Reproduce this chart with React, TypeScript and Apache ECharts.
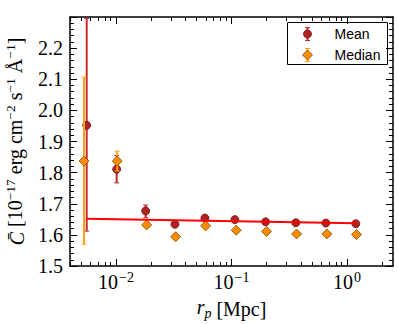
import React, { useEffect, useRef } from 'react';
import * as echarts from 'echarts';

// ---- data ----
const xMean = [0.00558, 0.01014, 0.01807, 0.03239, 0.05888, 0.107, 0.1972, 0.3605, 0.6561, 1.192];
const yMean = [1.952, 1.811, 1.677, 1.634, 1.654, 1.649, 1.642, 1.639, 1.638, 1.636];
const meanLo = [1.612, 1.767, 1.655, 1.628, 1.648, 1.644, 1.638, 1.635, 1.634, 1.632];
const meanHi = [2.295, 1.855, 1.696, 1.64, 1.66, 1.654, 1.646, 1.643, 1.642, 1.64];

const xMedian = [0.005287, 0.01026, 0.01843, 0.03284, 0.0597, 0.1098, 0.2012, 0.3659, 0.6688, 1.208];
const yMedian = [1.837, 1.837, 1.632, 1.594, 1.629, 1.615, 1.611, 1.603, 1.603, 1.601];
const medLo = [1.57, 1.805, 1.626, 1.588, 1.623, 1.609, 1.605, 1.597, 1.597, 1.595];
const medHi = [2.107, 1.869, 1.638, 1.6, 1.635, 1.621, 1.617, 1.609, 1.609, 1.607];

const fitX = [0.00558, 1.192];
const fitY = [1.652, 1.637];

const xMajorTicks = [0.01, 0.1, 1];
const xMinorTicks = [
  0.004, 0.005, 0.006, 0.007, 0.008, 0.009,
  0.02, 0.03, 0.04, 0.05, 0.06, 0.07, 0.08, 0.09,
  0.2, 0.3, 0.4, 0.5, 0.6, 0.7, 0.8, 0.9, 2,
];
const yTickLabels = ['1.5', '1.6', '1.7', '1.8', '1.9', '2.0', '2.1', '2.2'];

const SERIF = "'Liberation Serif', 'DejaVu Serif', serif";
const SANS = "'Liberation Sans', Arial, sans-serif";

const MEAN_FILL = '#b22222';
const MEAN_EDGE = '#6e1010';
const MEAN_BAR = '#c42b2b';
const MED_FILL = '#ff8c00';
const MED_EDGE = '#7a4a00';
const MED_BAR = '#ffa21a';

function errRender(color: string) {
  return (params: any, api: any) => {
    const x = api.value(0);
    const lo = api.value(2);
    const hi = api.value(3);
    const p1 = api.coord([x, hi]);
    const p2 = api.coord([x, lo]);
    const c = 2.5;
    return {
      type: 'group',
      children: [
        { type: 'line', shape: { x1: p1[0], y1: p1[1], x2: p2[0], y2: p2[1] }, style: { stroke: color, lineWidth: 2 } },
        { type: 'line', shape: { x1: p1[0] - c, y1: p1[1], x2: p1[0] + c, y2: p1[1] }, style: { stroke: color, lineWidth: 1 } },
        { type: 'line', shape: { x1: p2[0] - c, y1: p2[1], x2: p2[0] + c, y2: p2[1] }, style: { stroke: color, lineWidth: 1 } },
      ],
    };
  };
}

const GRID = { left: 70, right: 6, top: 17, bottom: 58, containLabel: false, outerBoundsMode: 'none' };
const X_MIN = 0.004;
const X_MAX = 2.5;
const Y_MIN = 1.5;
const Y_MAX = 2.3;

const frameLine = { show: true, lineStyle: { color: '#000', width: 1.5 } };
const tickStyle = { color: '#000', width: 1 };

export default function App() {
  const ref = useRef<HTMLDivElement>(null);

  useEffect(() => {
    if (!ref.current) return;
    const chart = echarts.init(ref.current, undefined, { renderer: 'svg' });

    const supRich = {
      b: { fontFamily: SERIF, fontSize: 20, color: '#000', lineHeight: 22, verticalAlign: 'bottom' },
      s: { fontFamily: SERIF, fontSize: 14, color: '#000', lineHeight: 22, verticalAlign: 'top', padding: [0, 0, 0, 1] },
    };

    const option: any = {
      animation: false,
      backgroundColor: '#fff',
      grid: [GRID, { ...GRID }],
      xAxis: [
        {
          type: 'log', logBase: 10, gridIndex: 0, position: 'bottom', min: X_MIN, max: X_MAX,
          axisLine: frameLine,
          axisTick: { show: true, inside: true, length: 7, lineStyle: tickStyle, customValues: xMajorTicks },
          axisLabel: {
            show: true, margin: 4, customValues: xMajorTicks,
            formatter: (v: number) => {
              const e = Math.round(Math.log10(v));
              return `{b|10}{s|${e < 0 ? '\u2212' : ''}${Math.abs(e)}}`;
            },
            rich: supRich,
          },
          splitLine: { show: false },
          name: '{i|r}{p|p} [Mpc]', nameLocation: 'middle', nameGap: 30,
          nameTextStyle: {
            fontFamily: SERIF, fontSize: 20, color: '#000',
            rich: {
              i: { fontFamily: SERIF, fontSize: 20, fontStyle: 'italic', color: '#000', lineHeight: 24, verticalAlign: 'top' },
              p: { fontFamily: SERIF, fontSize: 14, fontStyle: 'italic', color: '#000', lineHeight: 24, verticalAlign: 'bottom' },
            },
          },
        },
        {
          type: 'log', logBase: 10, gridIndex: 0, position: 'top', min: X_MIN, max: X_MAX,
          axisLine: frameLine,
          axisTick: { show: true, inside: true, length: 7, lineStyle: tickStyle, customValues: xMajorTicks },
          axisLabel: { show: false },
          splitLine: { show: false },
        },
        {
          type: 'log', logBase: 10, gridIndex: 1, position: 'bottom', min: X_MIN, max: X_MAX,
          axisLine: { show: false },
          axisTick: { show: true, inside: true, length: 4, lineStyle: tickStyle, customValues: xMinorTicks },
          axisLabel: { show: false },
          splitLine: { show: false },
        },
        {
          type: 'log', logBase: 10, gridIndex: 1, position: 'top', min: X_MIN, max: X_MAX,
          axisLine: { show: false },
          axisTick: { show: true, inside: true, length: 4, lineStyle: tickStyle, customValues: xMinorTicks },
          axisLabel: { show: false },
          splitLine: { show: false },
        },
      ],
      yAxis: [
        {
          type: 'value', gridIndex: 0, position: 'left', min: Y_MIN, max: Y_MAX, interval: 0.1,
          axisLine: frameLine,
          axisTick: { show: true, inside: true, length: 7, lineStyle: tickStyle },
          minorTick: { show: true, splitNumber: 5, length: 4, lineStyle: tickStyle },
          axisLabel: {
            show: true, margin: 7, fontFamily: SERIF, fontSize: 20, color: '#000',
            customValues: yTickLabels.map(Number),
            formatter: (v: number) => {
              const s = v.toFixed(1);
              return yTickLabels.indexOf(s) >= 0 ? s : '';
            },
          },
          splitLine: { show: false },
          minorSplitLine: { show: false },
          name: '{c|C\u0304} [10{s|\u221217} erg cm{s|\u22122} s{s|\u22121} \u00c5{s|\u22121}]',
          nameLocation: 'middle', nameRotate: 90, nameGap: 41,
          nameTextStyle: {
            fontFamily: SERIF, fontSize: 20, color: '#000',
            rich: {
              c: { fontFamily: SERIF, fontSize: 20, fontStyle: 'italic', color: '#000', lineHeight: 24, verticalAlign: 'bottom' },
              s: { fontFamily: SERIF, fontSize: 13.5, color: '#000', lineHeight: 24, verticalAlign: 'top' },
            },
          },
        },
        {
          type: 'value', gridIndex: 0, position: 'right', min: Y_MIN, max: Y_MAX, interval: 0.1,
          axisLine: frameLine,
          axisTick: { show: true, inside: true, length: 7, lineStyle: tickStyle },
          minorTick: { show: true, splitNumber: 5, length: 4, lineStyle: tickStyle },
          axisLabel: { show: false },
          splitLine: { show: false },
          minorSplitLine: { show: false },
        },
        {
          type: 'value', gridIndex: 1, min: Y_MIN, max: Y_MAX, show: false,
        },
      ],
      series: [
        {
          type: 'custom', name: 'MeanErr', xAxisIndex: 0, yAxisIndex: 0,
          renderItem: errRender(MEAN_BAR),
          encode: { x: 0, y: [1, 2, 3] },
          data: xMean.map((x, i) => [x, yMean[i], meanLo[i], meanHi[i]]),
          z: 2,
        },
        {
          type: 'scatter', name: 'Mean', xAxisIndex: 0, yAxisIndex: 0,
          symbol: 'circle', symbolSize: 8,
          itemStyle: { color: MEAN_FILL, borderColor: MEAN_EDGE, borderWidth: 0.8, opacity: 1 },
          data: xMean.map((x, i) => [x, yMean[i]]),
          z: 3,
        },
        {
          type: 'custom', name: 'MedianErr', xAxisIndex: 0, yAxisIndex: 0,
          renderItem: errRender(MED_BAR),
          encode: { x: 0, y: [1, 2, 3] },
          data: xMedian.map((x, i) => [x, yMedian[i], medLo[i], medHi[i]]),
          z: 4,
        },
        {
          type: 'scatter', name: 'Median', xAxisIndex: 0, yAxisIndex: 0,
          symbol: 'diamond', symbolSize: 10,
          itemStyle: { color: MED_FILL, borderColor: MED_EDGE, borderWidth: 0.8, opacity: 1 },
          data: xMedian.map((x, i) => [x, yMedian[i]]),
          z: 5,
        },
        {
          type: 'line', name: 'Fit', xAxisIndex: 0, yAxisIndex: 0,
          showSymbol: false, symbol: 'none',
          lineStyle: { color: '#ff0000', width: 2 },
          data: fitX.map((x, i) => [x, fitY[i]]),
          z: 6,
        },
      ],
      graphic: [
        {
          type: 'group', left: 287, top: 22,
          children: [
            { type: 'rect', shape: { x: 0, y: 0, width: 100, height: 42 }, style: { fill: '#fff', stroke: '#000', lineWidth: 1 } },
            // Mean entry
            { type: 'line', shape: { x1: 20, y1: 5, x2: 20, y2: 18 }, style: { stroke: MEAN_BAR, lineWidth: 2 } },
            { type: 'line', shape: { x1: 17.5, y1: 5, x2: 22.5, y2: 5 }, style: { stroke: MEAN_BAR, lineWidth: 1 } },
            { type: 'line', shape: { x1: 17.5, y1: 18, x2: 22.5, y2: 18 }, style: { stroke: MEAN_BAR, lineWidth: 1 } },
            { type: 'circle', shape: { cx: 20, cy: 11.5, r: 4 }, style: { fill: MEAN_FILL, stroke: MEAN_EDGE, lineWidth: 0.8 } },
            { type: 'text', x: 47, y: 11.5, style: { text: 'Mean', font: `14px ${SANS}`, fill: '#000', verticalAlign: 'middle', align: 'left' } },
            // Median entry
            { type: 'line', shape: { x1: 20, y1: 26, x2: 20, y2: 39 }, style: { stroke: MED_BAR, lineWidth: 2 } },
            { type: 'line', shape: { x1: 17.5, y1: 26, x2: 22.5, y2: 26 }, style: { stroke: MED_BAR, lineWidth: 1 } },
            { type: 'line', shape: { x1: 17.5, y1: 39, x2: 22.5, y2: 39 }, style: { stroke: MED_BAR, lineWidth: 1 } },
            { type: 'polygon', shape: { points: [[20, 27.5], [25, 32.5], [20, 37.5], [15, 32.5]] }, style: { fill: MED_FILL, stroke: MED_EDGE, lineWidth: 0.8 } },
            { type: 'text', x: 47, y: 32.5, style: { text: 'Median', font: `14px ${SANS}`, fill: '#000', verticalAlign: 'middle', align: 'left' } },
          ],
        },
      ],
    };

    chart.setOption(option);
    return () => chart.dispose();
  }, []);

  return (
    <div
      ref={ref}
      style={{ position: 'fixed', left: 0, top: 0, width: 399, height: 324, background: '#fff' }}
    />
  );
}
